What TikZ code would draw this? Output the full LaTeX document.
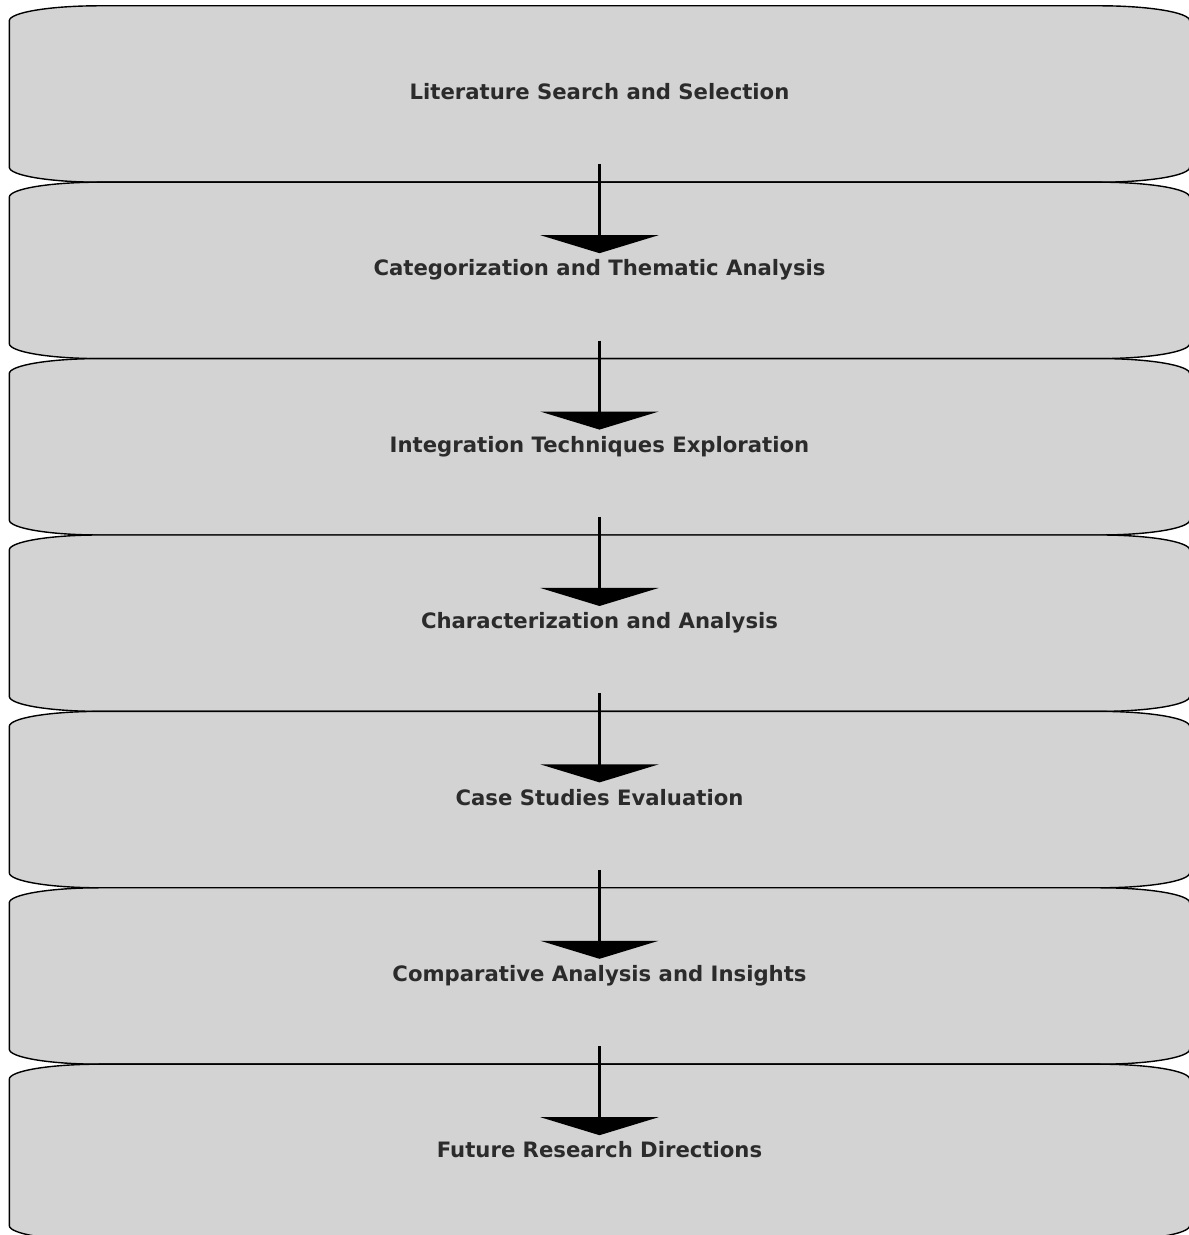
\documentclass[tikz,border=0pt]{standalone}
\usepackage{fontspec}
\setmainfont{DejaVu Sans}
\usetikzlibrary{arrows.meta,positioning,backgrounds}

\definecolor{boxgray}{HTML}{D3D3D3}
\definecolor{labelgray}{HTML}{2B2B2B}

% outline with flat elliptical corners round a named node
\newcommand{\ovalbox}[1]{%
  \draw[boxline] ([xshift=90pt]#1.north west) -- ([xshift=-90pt]#1.north east)
    arc[start angle=90, end angle=0, x radius=90pt, y radius=15pt]
    -- ([yshift=15pt]#1.south east)
    arc[start angle=0, end angle=-90, x radius=90pt, y radius=15pt]
    -- ([xshift=90pt]#1.south west)
    arc[start angle=270, end angle=180, x radius=90pt, y radius=15pt]
    -- ([yshift=-15pt]#1.north west)
    arc[start angle=180, end angle=90, x radius=90pt, y radius=15pt]
    -- cycle;}

\begin{document}
\begin{tikzpicture}[
  stepbox/.style={minimum width=1180pt, minimum height=176pt, inner sep=0pt,
    text=labelgray, font=\fontsize{21.2}{25}\selectfont\bfseries,
    text height=15pt, text depth=4pt},
  boxline/.style={draw=black, line width=1.4pt, fill=boxgray},
  flowarrow/.style={line width=2.2pt, -{Triangle[length=18pt, width=118pt]}}
]
\useasboundingbox (0,0) rectangle (1189pt,1235pt);

\node[stepbox] (lit) at (599.5pt,1141pt) {Literature Search and Selection};
\node[stepbox, below=0pt of lit] (cat) {Categorization and Thematic Analysis};
\node[stepbox, below=0pt of cat] (integ) {Integration Techniques Exploration};
\node[stepbox, below=0pt of integ] (charac) {Characterization and Analysis};
\node[stepbox, below=0pt of charac] (cases) {Case Studies Evaluation};
\node[stepbox, below=0pt of cases] (compar) {Comparative Analysis and Insights};
\node[stepbox, below=0pt of compar] (future) {Future Research Directions};

\begin{pgfonlayer}{background}
\foreach \b in {lit,cat,integ,charac,cases,compar,future}
  \ovalbox{\b};
\end{pgfonlayer}

\foreach \a/\b in {lit/cat, cat/integ, integ/charac, charac/cases, cases/compar, compar/future}
  \draw[flowarrow] ([yshift=18pt]\a.south) -- ([yshift=-71pt]\b.north);

\end{tikzpicture}
\end{document}
